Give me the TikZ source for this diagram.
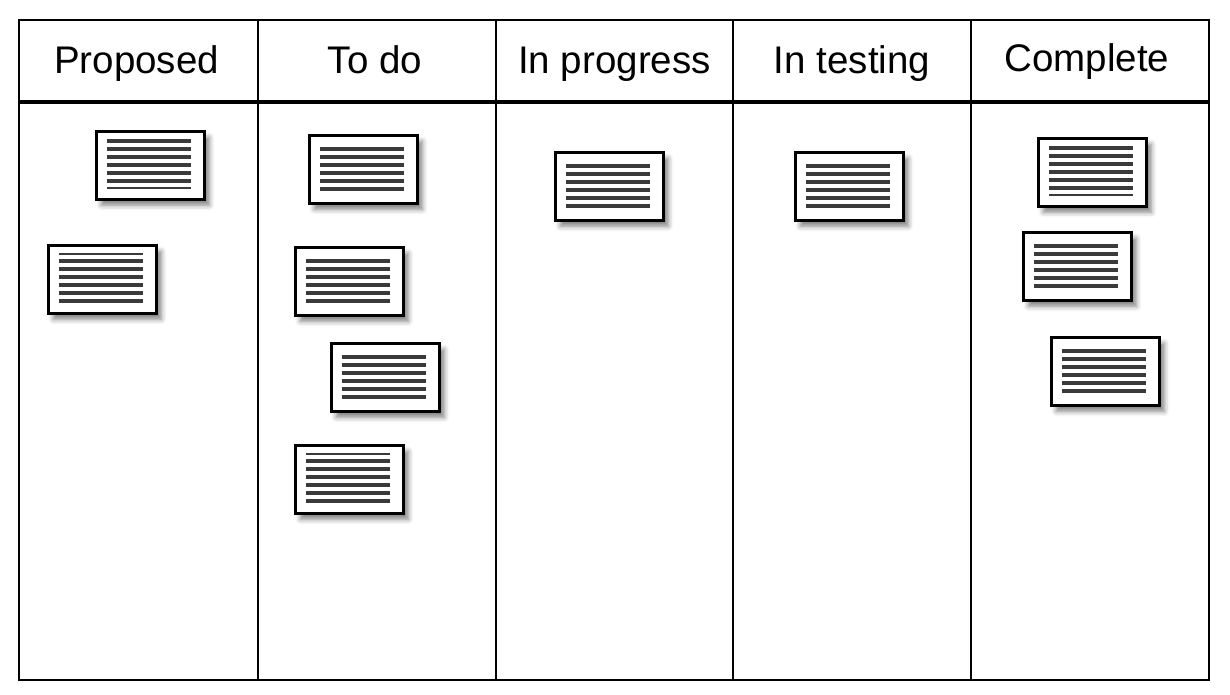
\documentclass[tikz,border=0pt]{standalone}
\usepackage{fontspec}
\setmainfont{Liberation Sans}
\usetikzlibrary{calc,shadows.blur}

\definecolor{inkgray}{HTML}{3A3A3A}

% six thick text lines
\newcommand{\cardsix}[1]{%
    \foreach \k in {0,...,5}
        \draw [textline] ($(#1.north west) + (12, 15 + 8*\k)$) -- ++(84, 0);
}
% a thin line on top, then six thick ones
\newcommand{\cardtop}[1]{%
    \draw [thinline] ($(#1.north west) + (12, 10)$) -- ++(84, 0);
    \foreach \k in {0,...,5}
        \draw [textline] ($(#1.north west) + (12, 17 + 8*\k)$) -- ++(84, 0);
}
% six thick lines, then a thin one below
\newcommand{\cardbottom}[1]{%
    \foreach \k in {0,...,5}
        \draw [textline] ($(#1.north west) + (12, 11 + 8*\k)$) -- ++(84, 0);
    \draw [thinline] ($(#1.north west) + (12, 58)$) -- ++(84, 0);
}

\begin{document}
\begin{tikzpicture}[x = 1pt, y = -1pt,
    head/.style = {anchor = base, font = \fontsize{38.5}{42}\selectfont},
    card/.style = {draw, line width = 2.6pt, fill = white, anchor = north west,
        minimum width = 108pt, minimum height = 68pt, inner sep = 0pt,
        blur shadow = {shadow xshift = 5pt, shadow yshift = -6pt,
            shadow opacity = 50, shadow blur radius = 5pt}},
    textline/.style = {inkgray, line width = 4.2pt},
    thinline/.style = {inkgray, line width = 1.8pt}]

    \useasboundingbox (0, 0) rectangle (1230, 694);

% The board: outer frame, header line and column walls.
    \draw [line width = 2.2pt] (19, 20) rectangle (1209, 680);
    \draw [line width = 3.8pt] (19, 102) -- (1209, 102);
    \foreach \x in {258, 496, 733, 971}
        \draw [line width = 2.2pt] (\x, 20) -- (\x, 680);

% Column titles.
    \node [head] (proposed) at (136.5, 73) {Proposed};
    \node [head] (todo)     at (375, 73)   {To do};
    \node [head] (progress) at (614.5, 73) {In progress};
    \node [head] (testing)  at (852, 73)   {In testing};
    \node [head] (complete) at (1087, 71)  {Complete};

% The cards, column by column.
    \node [card] (prop1) at (95, 130) {};   \cardbottom{prop1}
    \node [card] (prop2) at (47, 244) {};   \cardtop{prop2}

    \node [card] (todo1) at (308, 134) {};  \cardsix{todo1}
    \node [card] (todo2) at (294, 246) {};  \cardsix{todo2}
    \node [card] (todo3) at (330, 342) {};  \cardsix{todo3}
    \node [card] (todo4) at (294, 444) {};  \cardtop{todo4}

    \node [card] (prog1) at (554, 151) {};  \cardsix{prog1}

    \node [card] (test1) at (794, 151) {};  \cardsix{test1}

    \node [card] (comp1) at (1037, 137) {}; \cardbottom{comp1}
    \node [card] (comp2) at (1022, 231) {}; \cardsix{comp2}
    \node [card] (comp3) at (1050, 336) {}; \cardsix{comp3}

\end{tikzpicture}
\end{document}
